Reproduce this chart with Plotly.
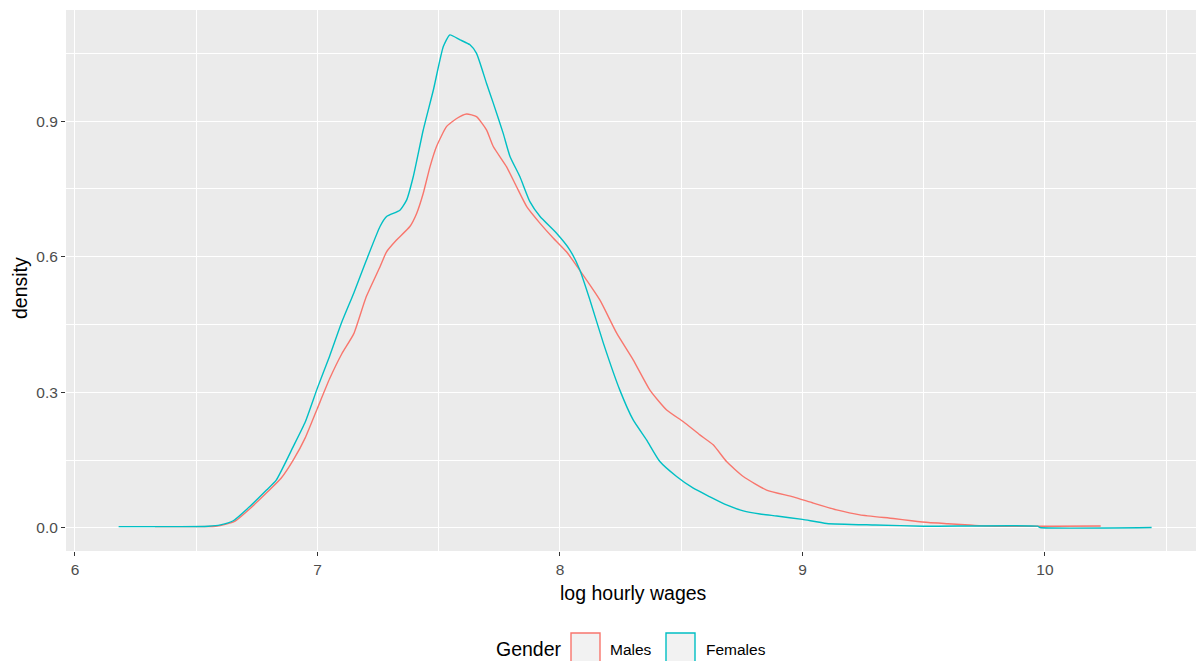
import plotly.graph_objects as go

# ---- data ----
females_x = [6.18, 6.40, 6.55, 6.60, 6.653, 6.72, 6.79, 6.83, 6.90, 6.95, 7.00, 7.05, 7.10, 7.15, 7.20,
             7.258, 7.285, 7.34, 7.368, 7.395, 7.436, 7.478, 7.519, 7.546, 7.588, 7.629, 7.656, 7.697,
             7.725, 7.766, 7.794, 7.835, 7.876, 7.918, 7.986, 8.041, 8.082, 8.124, 8.179, 8.247, 8.302,
             8.357, 8.412, 8.481, 8.55, 8.619, 8.687, 8.756, 8.825, 8.894, 9.0, 9.1, 9.3, 9.5, 9.97,
             9.98, 10.44]
females_y = [0.003, 0.003, 0.004, 0.007, 0.016, 0.047, 0.084, 0.106, 0.18, 0.235, 0.31, 0.38, 0.455,
             0.52, 0.59, 0.667, 0.689, 0.703, 0.726, 0.777, 0.88, 0.969, 1.065, 1.091, 1.080, 1.069,
             1.050, 0.984, 0.940, 0.873, 0.822, 0.777, 0.722, 0.689, 0.652, 0.615, 0.571, 0.504, 0.409,
             0.305, 0.239, 0.195, 0.147, 0.114, 0.088, 0.069, 0.051, 0.038, 0.031, 0.0265, 0.019, 0.010,
             0.0066, 0.004, 0.004, 0.001, 0.001]

males_x = [6.33, 6.45, 6.58, 6.62, 6.66, 6.72, 6.79, 6.85, 6.90, 6.95, 7.00, 7.05, 7.10, 7.15, 7.20,
           7.258, 7.285, 7.326, 7.381, 7.409, 7.436, 7.464, 7.491, 7.532, 7.574, 7.615, 7.656, 7.697,
           7.725, 7.780, 7.821, 7.863, 7.918, 7.973, 8.027, 8.082, 8.165, 8.234, 8.302, 8.371, 8.440,
           8.509, 8.577, 8.632, 8.687, 8.756, 8.852, 8.962, 9.045, 9.141, 9.237, 9.375, 9.45, 9.52,
           9.60, 9.67, 9.75, 10.23]
males_y = [0.003, 0.003, 0.004, 0.008, 0.015, 0.042, 0.078, 0.11, 0.15, 0.20, 0.265, 0.33, 0.385,
           0.43, 0.51, 0.578, 0.611, 0.637, 0.667, 0.696, 0.740, 0.799, 0.844, 0.888, 0.906, 0.916,
           0.910, 0.881, 0.844, 0.799, 0.755, 0.711, 0.674, 0.641, 0.611, 0.570, 0.504, 0.431, 0.372,
           0.305, 0.261, 0.235, 0.206, 0.184, 0.147, 0.114, 0.084, 0.069, 0.055, 0.040, 0.029, 0.021,
           0.016, 0.012, 0.0095, 0.0073, 0.0044, 0.0044]

series_names = ["Males", "Females"]
series_colors = ["#F8766D", "#00BFC4"]
x_ticks = [6, 7, 8, 9, 10]
y_ticks = [0.0, 0.3, 0.6, 0.9]
x_title = "log hourly wages"
y_title = "density"
legend_title = "Gender"

FONT = "Liberation Sans, Arial, sans-serif"
W, H = 1196, 661
ML, MR, MT, MB = 66, 0, 10, 110
PW, PH = W - ML - MR, H - MT - MB

def px2paper_x(px):
    return (px - ML) / PW

def px2paper_y(py):
    return (H - MB - py) / PH

fig = go.Figure()
fig.add_trace(go.Scatter(x=males_x, y=males_y, mode="lines", name=series_names[0],
                         line=dict(color=series_colors[0], width=1.4, shape="spline", smoothing=0.5),
                         showlegend=False))
fig.add_trace(go.Scatter(x=females_x, y=females_y, mode="lines", name=series_names[1],
                         line=dict(color=series_colors[1], width=1.4, shape="spline", smoothing=0.5),
                         showlegend=False))

fig.update_layout(
    width=W, height=H,
    margin=dict(l=ML, r=MR, t=MT, b=MB, pad=0),
    paper_bgcolor="white",
    plot_bgcolor="#EBEBEB",
    font=dict(family=FONT, color="#4D4D4D", size=15.5),
    xaxis=dict(range=[5.963, 10.623], tickvals=x_ticks, ticktext=[str(v) for v in x_ticks],
               showgrid=True, gridcolor="white", gridwidth=1.4, zeroline=False,
               ticks="outside", ticklen=4, tickcolor="#333333", tickwidth=1.2,
               tickfont=dict(size=15.5, color="#4D4D4D"),
               minor=dict(dtick=0.5, tick0=0, showgrid=True, gridcolor="white", gridwidth=0.7),
               showline=False),
    yaxis=dict(range=[-0.0509, 1.146], tickvals=y_ticks, ticktext=["%.1f" % v for v in y_ticks],
               showgrid=True, gridcolor="white", gridwidth=1.4, zeroline=False,
               ticks="outside", ticklen=4, tickcolor="#333333", tickwidth=1.2,
               tickfont=dict(size=15.5, color="#4D4D4D"),
               minor=dict(dtick=0.15, tick0=0.15, showgrid=True, gridcolor="white", gridwidth=0.7),
               showline=False),
)

annotations = [
    dict(text=x_title, x=px2paper_x(633), y=px2paper_y(593), xref="paper", yref="paper",
         showarrow=False, font=dict(size=19.5, color="black", family=FONT), xanchor="center", yanchor="middle"),
    dict(text=y_title, x=px2paper_x(20), y=px2paper_y(288), xref="paper", yref="paper",
         showarrow=False, textangle=-90, font=dict(size=19.5, color="black", family=FONT),
         xanchor="center", yanchor="middle"),
    dict(text=legend_title, x=px2paper_x(494), y=px2paper_y(649), xref="paper", yref="paper",
         showarrow=False, font=dict(size=19.5, color="black", family=FONT), xanchor="left", yanchor="middle"),
]
shapes = []
key_x = [571, 666]
label_x = [608, 704]
for i, name in enumerate(series_names):
    shapes.append(dict(type="rect", xref="paper", yref="paper",
                       x0=px2paper_x(key_x[i]), x1=px2paper_x(key_x[i] + 29),
                       y0=px2paper_y(633), y1=px2paper_y(664),
                       fillcolor="#F2F2F2", line=dict(color=series_colors[i], width=1.4)))
    annotations.append(dict(text=name, x=px2paper_x(label_x[i]), y=px2paper_y(649), xref="paper", yref="paper",
                            showarrow=False, font=dict(size=15.5, color="black", family=FONT),
                            xanchor="left", yanchor="middle"))
fig.update_layout(annotations=annotations, shapes=shapes)

fig.write_html("out.html")
